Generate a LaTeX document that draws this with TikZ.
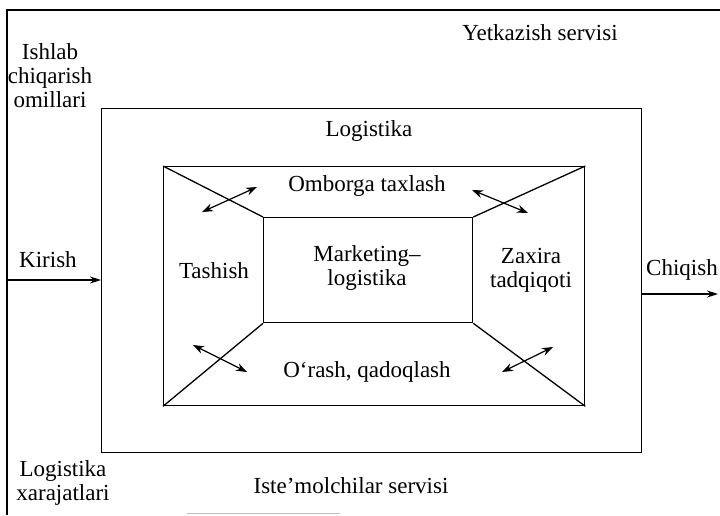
\documentclass[tikz,border=0pt]{standalone}
\usepackage{fontspec}
\setmainfont{Liberation Serif}
\usetikzlibrary{arrows.meta}
\begin{document}
\begin{tikzpicture}[x=1pt,y=-1pt,
  box/.style={draw,line width=1.3pt,inner sep=0pt,anchor=north west},
  lbl/.style={font=\fontsize{23}{24}\selectfont,align=center,inner sep=0pt},
  dbl/.style={{Stealth[length=11pt,width=8pt]}-{Stealth[length=11pt,width=8pt]},line width=1.2pt},
  ar/.style={-{Stealth[length=11pt,width=7pt]},line width=1.2pt},
  frame/.style={line width=1.3pt}]
\useasboundingbox (0,0) rectangle (720,515);
% outer frame
\coordinate (o1) at (720,10);
\coordinate (o2) at (7,10);
\coordinate (o3) at (7,515);
\draw[frame] (o1) -- (o2) -- (o3);
% boxes
\node[box,minimum width=540pt,minimum height=344pt] (log) at (101,108) {};
\node[box,minimum width=421pt,minimum height=239pt] (inn) at (163,166) {};
\node[box,minimum width=209pt,minimum height=105pt] (mid) at (263,217) {};
\draw[frame] (inn.north west) -- (mid.north west);
\draw[frame] (inn.north east) -- (mid.north east);
\draw[frame] (inn.south west) -- (mid.south west);
\draw[frame] (inn.south east) -- (mid.south east);
% double arrows
\coordinate (a1) at (202,212); \coordinate (a2) at (257,187);
\coordinate (b1) at (472,190); \coordinate (b2) at (528,213);
\coordinate (c1) at (193,345); \coordinate (c2) at (247,372);
\coordinate (d1) at (502,372); \coordinate (d2) at (553,347);
\draw[dbl] (a1) -- (a2);
\draw[dbl] (b1) -- (b2);
\draw[dbl] (c1) -- (c2);
\draw[dbl] (d1) -- (d2);
% in / out arrows
\coordinate (kin) at (7,280);
\draw[ar] (kin) -- (log.west |- kin);
\coordinate (cout) at (718,294);
\draw[ar] (log.east |- cout) -- (cout);
% labels
\node[lbl] (tomb) at (367,186) {Omborga taxlash};
\node[lbl] (ttash) at (214,271) {Tashish};
\node[lbl] (tmark) at (367,268) {Marketing–\\logistika};
\node[lbl] (tzax) at (531,270) {Zaxira\\tadqiqoti};
\node[lbl] (tora) at (367,372) {O‘rash, qadoqlash};
\node[lbl] (tlog) at (369,131) {Logistika};
\node[lbl] (tyet) at (540,33) {Yetkazish servisi};
\node[lbl] (tish) at (50,76) {Ishlab\\chiqarish\\omillari};
\node[lbl] (tkir) at (48,260) {Kirish};
\node[lbl] (tchi) at (682,270) {Chiqish};
\node[lbl] (tlx) at (63,483) {Logistika\\xarajatlari};
\node[lbl] (tist) at (351,486) {Iste’molchilar servisi};
% bottom rule
\coordinate (r1) at (187,513); \coordinate (r2) at (340,513);
\draw[gray!50,line width=1pt] (r1) -- (r2);
\end{tikzpicture}
\end{document}
